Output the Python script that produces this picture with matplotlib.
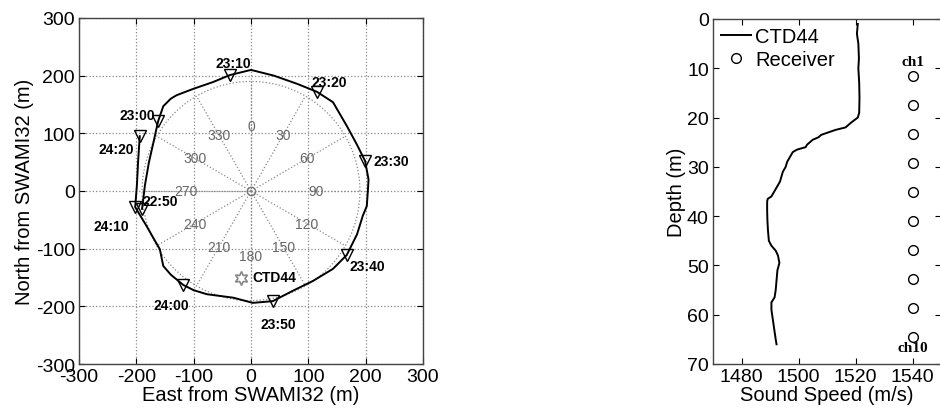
import numpy as np
import matplotlib.pyplot as plt

plt.rcParams['font.family'] = ['Liberation Sans', 'DejaVu Sans']
plt.rcParams['axes.unicode_minus'] = False

# ship track around SWAMI32 (east, north) in metres
track_east = [-190, -185, -178, -170, -162, -153, -140, -130, -101, -66, -37,
              0, 40, 80, 115, 143, 167, 185, 199, 205, 204, 202, 195, 185, 167,
              143, 108, 73, 38, 3, -31, -77, -100, -118, -140, -153, -159, -170,
              -182, -202, -199, -197, -195, -194]
track_north = [-31, 10, 50, 85, 121, 147, 160, 166, 177, 189, 201,
               210, 200, 186, 172, 154, 113, 80, 52, 20, 3, -26, -43, -75, -111,
               -135, -156, -173, -191, -194, -185, -179, -172, -163, -145, -130, -101, -82,
               -61, -28, 10, 50, 80, 95]

# 10-minute marks
mark_times = ['22:50', '23:00', '23:10', '23:20', '23:30', '23:40',
              '23:50', '24:00', '24:10', '24:20']
mark_east = [-190, -162, -37, 115, 199, 167, 38, -118, -202, -194]
mark_north = [-31, 121, 201, 172, 52, -111, -191, -163, -28, 95]

ctd_pos = (-17, -150)
bearings = [0, 30, 60, 90, 120, 150, 180, 210, 240, 270, 300, 330]

# CTD44 sound speed profile
depth = [1.0, 3, 5, 8, 10, 13, 16, 19, 20, 21, 22, 22.5, 23, 23.5, 24, 24.5,
         25, 25.5, 26, 26.5, 27, 27.5, 28, 29, 30, 31, 32, 33, 34, 35, 36,
         36.5, 37, 39, 41, 43, 45, 46, 47, 48, 49.5, 51, 53, 55, 56.5, 57.5,
         59, 61, 63, 65, 66]
speed = [1520.8, 1520.5, 1521.0, 1521.2, 1521.0, 1521.3, 1521.4, 1521.3, 1520.8,
         1518.5, 1516.5, 1513.0, 1510.5, 1508.0, 1507.0, 1505.0, 1504.0, 1503.0,
         1502.5, 1499.5, 1498.0, 1497.5, 1497.0, 1496.0, 1495.5, 1494.5, 1494.0,
         1493.5, 1492.5, 1491.5, 1490.5, 1489.2, 1489.0, 1489.0, 1489.1, 1489.3,
         1489.6, 1490.5, 1492.0, 1492.8, 1493.3, 1492.6, 1492.3, 1492.0, 1491.6,
         1490.5, 1490.5, 1491.0, 1491.5, 1492.0, 1492.3]

rx_depth = [11.6, 17.4, 23.3, 29.2, 35.1, 41.0, 46.9, 52.8, 58.7, 64.6]
rx_speed = 1540

fig = plt.figure(figsize=(9.4, 4.14), dpi=100)
ax1 = fig.add_axes([79/940, 49/414, 344/940, 346/414])
ax2 = fig.add_axes([713/940, 49/414, 228/940, 345/414])

# --- left: track ---
ax1.set_xlim(-300, 300)
ax1.set_ylim(-300, 300)
ticks = np.arange(-300, 301, 100)
ax1.set_xticks(ticks)
ax1.set_yticks(ticks)
ax1.grid(True, ls=':', color='#888888', lw=0.9)
ax1.set_axisbelow(True)

# polar bearing grid
r_c, r_lab = 190, 113
th = np.linspace(0, 2 * np.pi, 300)
ax1.plot(r_c * np.cos(th), r_c * np.sin(th), ls=':', color='#888888', lw=0.9)
for b in bearings:
    a = np.deg2rad(b)
    ax1.plot([0, r_c * np.sin(a)], [0, r_c * np.cos(a)], ls=':', color='#888888', lw=0.9)
    ax1.text(r_lab * np.sin(a), r_lab * np.cos(a), str(b), color='#666666',
             fontsize=10, ha='center', va='center')
ax1.plot(0, 0, 'o', mfc='none', mec='#777777', ms=6)

ax1.plot(track_east, track_north, color='black', lw=1.4)
ax1.plot(mark_east, mark_north, 'v', mfc='none', mec='black', ms=8.5, mew=1.0)

offsets = {'22:50': (13, 6, 'center'), '23:00': (-15, 4.5, 'center'),
           '23:10': (2.5, 8.7, 'center'), '23:20': (-3.7, 7, 'left'),
           '23:30': (5.8, 0, 'left'), '23:40': (15, -8, 'center'),
           '23:50': (3.7, -16.5, 'center'), '24:00': (-9, -14.5, 'center'),
           '24:10': (-17, -13.6, 'center'), '24:20': (-17, -9, 'center')}
for t, e, n in zip(mark_times, mark_east, mark_north):
    dx, dy, ha = offsets[t]
    ax1.annotate(t, (e, n), xytext=(dx, dy), textcoords='offset points',
                 ha=ha, va='center', fontsize=10, fontweight='bold')

ax1.plot(*ctd_pos, marker=(6, 1, 0), mfc='none', mec='#888888', ms=10, mew=1.2)
ax1.annotate('CTD44', ctd_pos, xytext=(8, 0), textcoords='offset points',
             ha='left', va='center', fontsize=10, fontweight='bold')

ax1.set_xlabel('East from SWAMI32 (m)', fontsize=14.5, labelpad=0)
ax1.set_ylabel('North from SWAMI32 (m)', fontsize=14.5, labelpad=1)

# --- right: sound speed ---
ax2.plot(speed, depth, color='black', lw=1.4, label='CTD44')
ax2.plot([rx_speed] * len(rx_depth), rx_depth, 'o', mfc='none', mec='black',
         ms=7, mew=1.0, ls='none', label='Receiver')
ax2.text(rx_speed, rx_depth[0] - 1.6, 'ch1', family='Liberation Serif',
         fontsize=11, fontweight='bold', ha='center', va='bottom')
ax2.text(rx_speed, rx_depth[-1] + 0.8, 'ch10', family='Liberation Serif',
         fontsize=11, fontweight='bold', ha='center', va='top')
ax2.set_xlim(1470, 1550)
ax2.set_ylim(70, 0)
ax2.set_xticks([1480, 1500, 1520, 1540])
ax2.set_yticks(np.arange(0, 71, 10))
ax2.set_xlabel('Sound Speed (m/s)', fontsize=14.5, labelpad=0)
ax2.set_ylabel('Depth (m)', fontsize=14.5, labelpad=1)
ax2.legend(loc='upper left', frameon=False, fontsize=14.5, handlelength=1.5,
           handletextpad=0.2, borderaxespad=0.2, labelspacing=0.2,
           borderpad=0.2)

for ax in (ax1, ax2):
    ax.tick_params(direction='in', top=True, right=True, labelsize=14,
                   length=4, pad=3)
    for s in ax.spines.values():
        s.set_color('#444444')
        s.set_linewidth(1.0)

fig.savefig('out.png', dpi=100)
